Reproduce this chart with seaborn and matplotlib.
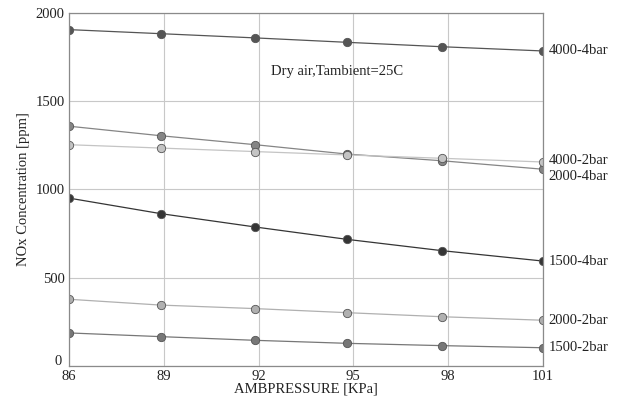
import pandas as pd
import matplotlib
matplotlib.use("Agg")
import matplotlib.pyplot as plt
import matplotlib.transforms as mtransforms
import seaborn as sns

# Data
pressure = [86, 88.9, 91.9, 94.8, 97.8, 101]
series_names = ["4000-4bar", "2000-4bar", "4000-2bar", "1500-4bar", "2000-2bar", "1500-2bar"]
nox_4000_4bar = [1907, 1884, 1860, 1835, 1810, 1786]
nox_2000_4bar = [1359, 1305, 1254, 1201, 1163, 1115]
nox_4000_2bar = [1254, 1235, 1215, 1196, 1177, 1156]
nox_1500_4bar = [951, 863, 787, 717, 653, 594]
nox_2000_2bar = [377, 344, 324, 301, 278, 258]
nox_1500_2bar = [186, 165, 144, 127, 114, 102]

values = [nox_4000_4bar, nox_2000_4bar, nox_4000_2bar,
          nox_1500_4bar, nox_2000_2bar, nox_1500_2bar]

rows = []
for name, vals in zip(series_names, values):
    for p, v in zip(pressure, vals):
        rows.append({"pressure": p, "nox": v, "series": name})
df = pd.DataFrame(rows)

colors = {
    "4000-4bar": "#555555",
    "2000-4bar": "#858585",
    "4000-2bar": "#c4c4c4",
    "1500-4bar": "#353535",
    "2000-2bar": "#b0b0b0",
    "1500-2bar": "#777777",
}
# vertical nudge of the right-hand labels (points)
label_nudge = {
    "4000-4bar": 0,
    "2000-4bar": -5,
    "4000-2bar": 1,
    "1500-4bar": 0,
    "2000-2bar": 0,
    "1500-2bar": 0,
}

sns.set_style("white")
plt.rcParams["font.family"] = ["Liberation Serif", "DejaVu Serif"]

fig = plt.figure(figsize=(6.18, 4.01), dpi=100)
ax = fig.add_axes([0.1117, 0.088, 0.7665, 0.879])

sns.lineplot(
    data=df, x="pressure", y="nox", hue="series",
    palette=colors, marker="o", markersize=6, linewidth=0.9,
    markeredgewidth=0.6, legend=False, ax=ax, sort=False,
)
for line in ax.lines:
    line.set_markeredgecolor("#555555")

for name, vals in zip(series_names, values):
    ax.annotate(name, (pressure[-1], vals[-1]), xytext=(4, label_nudge[name]),
                textcoords="offset points", ha="left", va="center",
                fontsize=10.5, color="#222222", annotation_clip=False)

ax.text(92.4, 1667, "Dry air,Tambient=25C", fontsize=10.5, color="#222222",
        va="center", ha="left")

ax.set_xlim(86, 101)
ax.set_ylim(0, 2000)
ax.set_xticks([86, 89, 92, 95, 98, 101])
ax.set_yticks([0, 500, 1000, 1500, 2000])
ax.grid(True, color="#c8c8c8", linewidth=0.8)
ax.set_axisbelow(True)
for s in ax.spines.values():
    s.set_color("#8a8a8a")
    s.set_linewidth(0.9)
ax.tick_params(length=0, labelsize=10.5, colors="#222222", pad=3)

# lift the "0" label a little so it clears the "86" below it
fig.canvas.draw()
zero_label = ax.get_yticklabels()[0]
zero_label.set_transform(zero_label.get_transform() +
                         mtransforms.ScaledTranslation(-2 / 72, 4 / 72, fig.dpi_scale_trans))

ax.set_xlabel("AMBPRESSURE [KPa]", fontsize=10.5, color="#222222", labelpad=0)
ax.set_ylabel("NOx Concentration [ppm]", fontsize=10.5, color="#222222", labelpad=4)

fig.savefig("out.png", dpi=100)
